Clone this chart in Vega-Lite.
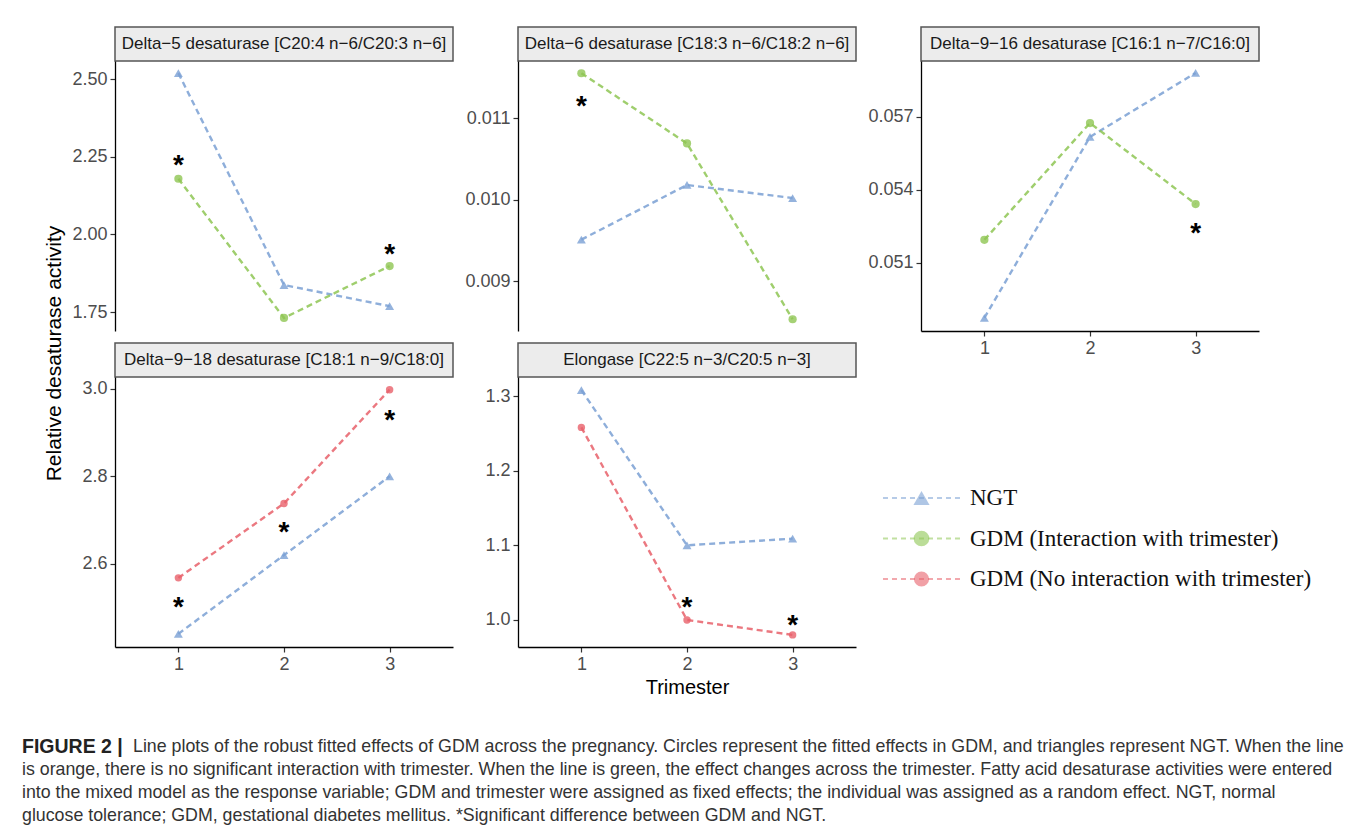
{
  "$schema": "https://vega.github.io/schema/vega-lite/v6.json",
  "background": "white",
  "padding": {"left": 22, "top": 26, "right": 0, "bottom": 0},
  "autosize": {"type": "pad"},
  "config": {
    "view": {"stroke": null},
    "font": "Liberation Sans",
    "axis": {"grid": false, "domainColor": "black", "domainWidth": 1.3, "tickColor": "#333333", "tickSize": 5, "tickWidth": 1.2, "labelFont": "Liberation Sans", "labelFontSize": 18, "labelColor": "#4d4d4d", "labelPadding": 3, "titleFont": "Liberation Sans", "titleFontSize": 20, "titleFontWeight": "normal", "titleColor": "black"},
    "line": {"strokeDash": [6, 4], "strokeWidth": 2.4, "opacity": 0.85},
    "point": {"filled": true, "opacity": 0.8},
    "text": {"color": "black"}
  },
  "datasets": {
    "points": [
      {"panel": "d5", "trimester": 1, "group": "NGT", "value": 2.519},
      {"panel": "d5", "trimester": 2, "group": "NGT", "value": 1.837},
      {"panel": "d5", "trimester": 3, "group": "NGT", "value": 1.769},
      {"panel": "d5", "trimester": 1, "group": "GDM (Interaction with trimester)", "value": 2.179},
      {"panel": "d5", "trimester": 2, "group": "GDM (Interaction with trimester)", "value": 1.731},
      {"panel": "d5", "trimester": 3, "group": "GDM (Interaction with trimester)", "value": 1.898},
      {"panel": "d6", "trimester": 1, "group": "NGT", "value": 0.00951},
      {"panel": "d6", "trimester": 2, "group": "NGT", "value": 0.01018},
      {"panel": "d6", "trimester": 3, "group": "NGT", "value": 0.01002},
      {"panel": "d6", "trimester": 1, "group": "GDM (Interaction with trimester)", "value": 0.01155},
      {"panel": "d6", "trimester": 2, "group": "GDM (Interaction with trimester)", "value": 0.01069},
      {"panel": "d6", "trimester": 3, "group": "GDM (Interaction with trimester)", "value": 0.008534},
      {"panel": "d916", "trimester": 1, "group": "NGT", "value": 0.04874},
      {"panel": "d916", "trimester": 2, "group": "NGT", "value": 0.05618},
      {"panel": "d916", "trimester": 3, "group": "NGT", "value": 0.05881},
      {"panel": "d916", "trimester": 1, "group": "GDM (Interaction with trimester)", "value": 0.05195},
      {"panel": "d916", "trimester": 2, "group": "GDM (Interaction with trimester)", "value": 0.05675},
      {"panel": "d916", "trimester": 3, "group": "GDM (Interaction with trimester)", "value": 0.05342},
      {"panel": "d918", "trimester": 1, "group": "NGT", "value": 2.44},
      {"panel": "d918", "trimester": 2, "group": "NGT", "value": 2.62},
      {"panel": "d918", "trimester": 3, "group": "NGT", "value": 2.80},
      {"panel": "d918", "trimester": 1, "group": "GDM (No interaction with trimester)", "value": 2.568},
      {"panel": "d918", "trimester": 2, "group": "GDM (No interaction with trimester)", "value": 2.738},
      {"panel": "d918", "trimester": 3, "group": "GDM (No interaction with trimester)", "value": 2.998},
      {"panel": "elo", "trimester": 1, "group": "NGT", "value": 1.308},
      {"panel": "elo", "trimester": 2, "group": "NGT", "value": 1.10},
      {"panel": "elo", "trimester": 3, "group": "NGT", "value": 1.109},
      {"panel": "elo", "trimester": 1, "group": "GDM (No interaction with trimester)", "value": 1.258},
      {"panel": "elo", "trimester": 2, "group": "GDM (No interaction with trimester)", "value": 1.0},
      {"panel": "elo", "trimester": 3, "group": "GDM (No interaction with trimester)", "value": 0.98}
    ],
    "stars": [
      {"panel": "d5", "trimester": 1, "value": 2.247},
      {"panel": "d5", "trimester": 3, "value": 1.958},
      {"panel": "d6", "trimester": 1, "value": 0.01123},
      {"panel": "d916", "trimester": 3, "value": 0.05252},
      {"panel": "d918", "trimester": 1, "value": 2.518},
      {"panel": "d918", "trimester": 2, "value": 2.688},
      {"panel": "d918", "trimester": 3, "value": 2.945},
      {"panel": "elo", "trimester": 2, "value": 1.027},
      {"panel": "elo", "trimester": 3, "value": 1.003}
    ],
    "strips": [
      {"panel": "d5", "title": "Delta−5 desaturase [C20:4 n−6/C20:3 n−6]"},
      {"panel": "d6", "title": "Delta−6 desaturase [C18:3 n−6/C18:2 n−6]"},
      {"panel": "d916", "title": "Delta−9−16 desaturase [C16:1 n−7/C16:0]"},
      {"panel": "d918", "title": "Delta−9−18 desaturase [C18:1 n−9/C18:0]"},
      {"panel": "elo", "title": "Elongase [C22:5 n−3/C20:5 n−3]"}
    ],
    "legend": [
      {"item": 1, "group": "NGT"},
      {"item": 2, "group": "GDM (Interaction with trimester)"},
      {"item": 3, "group": "GDM (No interaction with trimester)"}
    ],
    "caption": [
      {"line": 1, "part": "bold", "text": "FIGURE 2 |"},
      {"line": 1, "part": "head", "text": "Line plots of the robust fitted effects of GDM across the pregnancy. Circles represent the fitted effects in GDM, and triangles represent NGT. When the line"},
      {"line": 2, "part": "body", "text": "is orange, there is no significant interaction with trimester. When the line is green, the effect changes across the trimester. Fatty acid desaturase activities were entered"},
      {"line": 3, "part": "body", "text": "into the mixed model as the response variable; GDM and trimester were assigned as fixed effects; the individual was assigned as a random effect. NGT, normal"},
      {"line": 4, "part": "body", "text": "glucose tolerance; GDM, gestational diabetes mellitus. *Significant difference between GDM and NGT."}
    ]
  },
  "columns": 3,
  "spacing": {"row": 0, "column": 65},
  "bounds": "flush",
  "concat": [
    {"width": 338, "height": 34, "data": {"name": "strips"}, "transform": [{"filter": "datum.panel === 'd5'"}],
     "view": {"fill": "#ececec", "stroke": "#555555", "strokeWidth": 1.5},
     "mark": {"type": "text", "fontSize": 17, "color": "#1a1a1a", "align": "center", "baseline": "middle"},
     "encoding": {"text": {"field": "title"}}},
    {"width": 338, "height": 34, "data": {"name": "strips"}, "transform": [{"filter": "datum.panel === 'd6'"}],
     "view": {"fill": "#ececec", "stroke": "#555555", "strokeWidth": 1.5},
     "mark": {"type": "text", "fontSize": 17, "color": "#1a1a1a", "align": "center", "baseline": "middle"},
     "encoding": {"text": {"field": "title"}}},
    {"width": 338, "height": 34, "data": {"name": "strips"}, "transform": [{"filter": "datum.panel === 'd916'"}],
     "view": {"fill": "#ececec", "stroke": "#555555", "strokeWidth": 1.5},
     "mark": {"type": "text", "fontSize": 17, "color": "#1a1a1a", "align": "center", "baseline": "middle"},
     "encoding": {"text": {"field": "title"}}},

    {"width": 338, "height": 270,
     "layer": [
       {"data": {"name": "points"}, "transform": [{"filter": "datum.panel === 'd5'"}],
        "mark": {"type": "line"},
        "encoding": {
          "x": {"field": "trimester", "type": "ordinal", "scale": {"type": "point", "padding": 0.6}, "axis": null},
          "y": {"field": "value", "type": "quantitative", "scale": {"domain": [1.689, 2.558], "nice": false, "zero": false},
                "axis": {"values": [1.75, 2, 2.25, 2.5], "format": ".2f", "title": "Relative desaturase activity", "titleFontSize": 21, "titleX": -61, "titleY": 292, "titleAngle": -90, "titleAlign": "center", "titleBaseline": "middle"}},
          "color": {"field": "group", "type": "nominal", "scale": {"domain": ["NGT", "GDM (Interaction with trimester)", "GDM (No interaction with trimester)"], "range": ["#7aa0d4", "#8ec653", "#e8606a"]}, "legend": null}}},
       {"data": {"name": "points"}, "transform": [{"filter": "datum.panel === 'd5'"}],
        "mark": {"type": "point"},
        "encoding": {
          "x": {"field": "trimester", "type": "ordinal"},
          "y": {"field": "value", "type": "quantitative"},
          "color": {"field": "group", "type": "nominal", "legend": null},
          "size": {"field": "group", "type": "nominal", "scale": {"domain": ["NGT", "GDM (Interaction with trimester)", "GDM (No interaction with trimester)"], "range": [80, 55, 55]}, "legend": null},
          "shape": {"field": "group", "type": "nominal", "scale": {"domain": ["NGT", "GDM (Interaction with trimester)", "GDM (No interaction with trimester)"], "range": ["triangle-up", "circle", "circle"]}, "legend": null}}},
       {"data": {"name": "stars"}, "transform": [{"filter": "datum.panel === 'd5'"}],
        "mark": {"type": "text", "text": "*", "fontSize": 28, "fontWeight": "bold", "dy": 16, "baseline": "alphabetic"},
        "encoding": {"x": {"field": "trimester", "type": "ordinal"}, "y": {"field": "value", "type": "quantitative"}}}
     ]},
    {"width": 338, "height": 270,
     "layer": [
       {"data": {"name": "points"}, "transform": [{"filter": "datum.panel === 'd6'"}],
        "mark": {"type": "line"},
        "encoding": {
          "x": {"field": "trimester", "type": "ordinal", "scale": {"type": "point", "padding": 0.6}, "axis": null},
          "y": {"field": "value", "type": "quantitative", "scale": {"domain": [0.00839, 0.0117], "nice": false, "zero": false},
                "axis": {"values": [0.009, 0.010, 0.011], "format": ".3f", "title": null}},
          "color": {"field": "group", "type": "nominal", "legend": null}}},
       {"data": {"name": "points"}, "transform": [{"filter": "datum.panel === 'd6'"}],
        "mark": {"type": "point"},
        "encoding": {
          "x": {"field": "trimester", "type": "ordinal"},
          "y": {"field": "value", "type": "quantitative"},
          "color": {"field": "group", "type": "nominal", "legend": null},
          "size": {"field": "group", "type": "nominal", "scale": {"domain": ["NGT", "GDM (Interaction with trimester)", "GDM (No interaction with trimester)"], "range": [80, 55, 55]}, "legend": null},
          "shape": {"field": "group", "type": "nominal", "legend": null}}},
       {"data": {"name": "stars"}, "transform": [{"filter": "datum.panel === 'd6'"}],
        "mark": {"type": "text", "text": "*", "fontSize": 28, "fontWeight": "bold", "dy": 16, "baseline": "alphabetic"},
        "encoding": {"x": {"field": "trimester", "type": "ordinal"}, "y": {"field": "value", "type": "quantitative"}}}
     ]},
    {"width": 338, "height": 270,
     "layer": [
       {"data": {"name": "points"}, "transform": [{"filter": "datum.panel === 'd916'"}],
        "mark": {"type": "line"},
        "encoding": {
          "x": {"field": "trimester", "type": "ordinal", "scale": {"type": "point", "padding": 0.6}, "axis": {"labelAngle": 0, "title": null}},
          "y": {"field": "value", "type": "quantitative", "scale": {"domain": [0.0482, 0.0593], "nice": false, "zero": false},
                "axis": {"values": [0.051, 0.054, 0.057], "format": ".3f", "title": null}},
          "color": {"field": "group", "type": "nominal", "legend": null}}},
       {"data": {"name": "points"}, "transform": [{"filter": "datum.panel === 'd916'"}],
        "mark": {"type": "point"},
        "encoding": {
          "x": {"field": "trimester", "type": "ordinal"},
          "y": {"field": "value", "type": "quantitative"},
          "color": {"field": "group", "type": "nominal", "legend": null},
          "size": {"field": "group", "type": "nominal", "scale": {"domain": ["NGT", "GDM (Interaction with trimester)", "GDM (No interaction with trimester)"], "range": [80, 55, 55]}, "legend": null},
          "shape": {"field": "group", "type": "nominal", "legend": null}}},
       {"data": {"name": "stars"}, "transform": [{"filter": "datum.panel === 'd916'"}],
        "mark": {"type": "text", "text": "*", "fontSize": 28, "fontWeight": "bold", "dy": 16, "baseline": "alphabetic"},
        "encoding": {"x": {"field": "trimester", "type": "ordinal"}, "y": {"field": "value", "type": "quantitative"}}}
     ]},

    {"width": 338, "height": 12, "data": {"values": []}, "mark": {"type": "text"}},
    {"width": 338, "height": 12, "data": {"values": []}, "mark": {"type": "text"}},
    {"width": 338, "height": 12, "data": {"values": []}, "mark": {"type": "text"}},

    {"width": 338, "height": 34, "data": {"name": "strips"}, "transform": [{"filter": "datum.panel === 'd918'"}],
     "view": {"fill": "#ececec", "stroke": "#555555", "strokeWidth": 1.5},
     "mark": {"type": "text", "fontSize": 17, "color": "#1a1a1a", "align": "center", "baseline": "middle"},
     "encoding": {"text": {"field": "title"}}},
    {"width": 338, "height": 34, "data": {"name": "strips"}, "transform": [{"filter": "datum.panel === 'elo'"}],
     "view": {"fill": "#ececec", "stroke": "#555555", "strokeWidth": 1.5},
     "mark": {"type": "text", "fontSize": 17, "color": "#1a1a1a", "align": "center", "baseline": "middle"},
     "encoding": {"text": {"field": "title"}}},
    {"width": 338, "height": 34, "data": {"values": []}, "mark": {"type": "text"}},

    {"width": 338, "height": 270,
     "layer": [
       {"data": {"name": "points"}, "transform": [{"filter": "datum.panel === 'd918'"}],
        "mark": {"type": "line"},
        "encoding": {
          "x": {"field": "trimester", "type": "ordinal", "scale": {"type": "point", "padding": 0.6}, "axis": {"labelAngle": 0, "title": null}},
          "y": {"field": "value", "type": "quantitative", "scale": {"domain": [2.41, 3.027], "nice": false, "zero": false},
                "axis": {"values": [2.6, 2.8, 3.0], "format": ".1f", "title": null}},
          "color": {"field": "group", "type": "nominal", "legend": null}}},
       {"data": {"name": "points"}, "transform": [{"filter": "datum.panel === 'd918'"}],
        "mark": {"type": "point"},
        "encoding": {
          "x": {"field": "trimester", "type": "ordinal"},
          "y": {"field": "value", "type": "quantitative"},
          "color": {"field": "group", "type": "nominal", "legend": null},
          "size": {"field": "group", "type": "nominal", "scale": {"domain": ["NGT", "GDM (Interaction with trimester)", "GDM (No interaction with trimester)"], "range": [80, 55, 55]}, "legend": null},
          "shape": {"field": "group", "type": "nominal", "legend": null}}},
       {"data": {"name": "stars"}, "transform": [{"filter": "datum.panel === 'd918'"}],
        "mark": {"type": "text", "text": "*", "fontSize": 28, "fontWeight": "bold", "dy": 16, "baseline": "alphabetic"},
        "encoding": {"x": {"field": "trimester", "type": "ordinal"}, "y": {"field": "value", "type": "quantitative"}}}
     ]},
    {"width": 338, "height": 270,
     "layer": [
       {"data": {"name": "points"}, "transform": [{"filter": "datum.panel === 'elo'"}],
        "mark": {"type": "line"},
        "encoding": {
          "x": {"field": "trimester", "type": "ordinal", "scale": {"type": "point", "padding": 0.6}, "axis": {"labelAngle": 0, "title": "Trimester", "titlePadding": 4}},
          "y": {"field": "value", "type": "quantitative", "scale": {"domain": [0.9638, 1.3255], "nice": false, "zero": false},
                "axis": {"values": [1.0, 1.1, 1.2, 1.3], "format": ".1f", "title": null}},
          "color": {"field": "group", "type": "nominal", "legend": null}}},
       {"data": {"name": "points"}, "transform": [{"filter": "datum.panel === 'elo'"}],
        "mark": {"type": "point"},
        "encoding": {
          "x": {"field": "trimester", "type": "ordinal"},
          "y": {"field": "value", "type": "quantitative"},
          "color": {"field": "group", "type": "nominal", "legend": null},
          "size": {"field": "group", "type": "nominal", "scale": {"domain": ["NGT", "GDM (Interaction with trimester)", "GDM (No interaction with trimester)"], "range": [80, 55, 55]}, "legend": null},
          "shape": {"field": "group", "type": "nominal", "legend": null}}},
       {"data": {"name": "stars"}, "transform": [{"filter": "datum.panel === 'elo'"}],
        "mark": {"type": "text", "text": "*", "fontSize": 28, "fontWeight": "bold", "dy": 16, "baseline": "alphabetic"},
        "encoding": {"x": {"field": "trimester", "type": "ordinal"}, "y": {"field": "value", "type": "quantitative"}}}
     ]},
    {"width": 338, "height": 270,
     "data": {"name": "legend"},
     "encoding": {"y": {"field": "item", "type": "quantitative", "scale": {"domain": [-1.988, 4.679], "reverse": true, "nice": false, "zero": false}, "axis": null}},
     "layer": [
       {"mark": {"type": "rule", "strokeDash": [5, 4], "strokeWidth": 2, "opacity": 0.55},
        "encoding": {
          "x": {"datum": 0, "type": "quantitative", "scale": {"domain": [0.4935, 4.883], "nice": false, "zero": false}, "axis": null},
          "x2": {"datum": 1},
          "color": {"field": "group", "type": "nominal", "legend": null}}},
       {"mark": {"type": "point", "filled": true, "opacity": 0.6},
        "encoding": {
          "x": {"datum": 0.5, "type": "quantitative"},
          "color": {"field": "group", "type": "nominal", "legend": null},
          "size": {"field": "group", "type": "nominal", "scale": {"domain": ["NGT", "GDM (Interaction with trimester)", "GDM (No interaction with trimester)"], "range": [260, 230, 230]}, "legend": null},
          "shape": {"field": "group", "type": "nominal", "legend": null}}},
       {"mark": {"type": "text", "align": "left", "baseline": "middle", "dx": 10, "font": "Liberation Serif", "fontSize": 23, "color": "#111111"},
        "encoding": {"x": {"datum": 1, "type": "quantitative"}, "text": {"field": "group"}}}
     ]},

    {"width": 338, "height": 88, "data": {"values": []}, "mark": {"type": "text"}},
    {"width": 338, "height": 88, "data": {"values": []}, "mark": {"type": "text"}},
    {"width": 338, "height": 88, "data": {"values": []}, "mark": {"type": "text"}},

    {"width": 338, "height": 92,
     "data": {"name": "caption"},
     "encoding": {"y": {"field": "line", "type": "ordinal", "scale": {"type": "band", "paddingInner": 0, "paddingOuter": 0}, "axis": null},
                  "x": {"datum": 0, "type": "quantitative", "scale": {"domain": [0, 1]}, "axis": null}},
     "layer": [
       {"transform": [{"filter": "datum.part === 'bold'"}],
        "mark": {"type": "text", "align": "left", "baseline": "middle", "dx": -93, "fontSize": 19.5, "fontWeight": "bold", "color": "#222222"},
        "encoding": {"text": {"field": "text"}}},
       {"transform": [{"filter": "datum.part === 'head'"}],
        "mark": {"type": "text", "align": "left", "baseline": "middle", "dx": 18, "fontSize": 17.8, "color": "#333333"},
        "encoding": {"text": {"field": "text"}}},
       {"transform": [{"filter": "datum.part === 'body'"}],
        "mark": {"type": "text", "align": "left", "baseline": "middle", "dx": -93, "fontSize": 17.8, "color": "#333333"},
        "encoding": {"text": {"field": "text"}}}
     ]}
  ],
  "resolve": {"scale": {"size": "independent"}}
}
